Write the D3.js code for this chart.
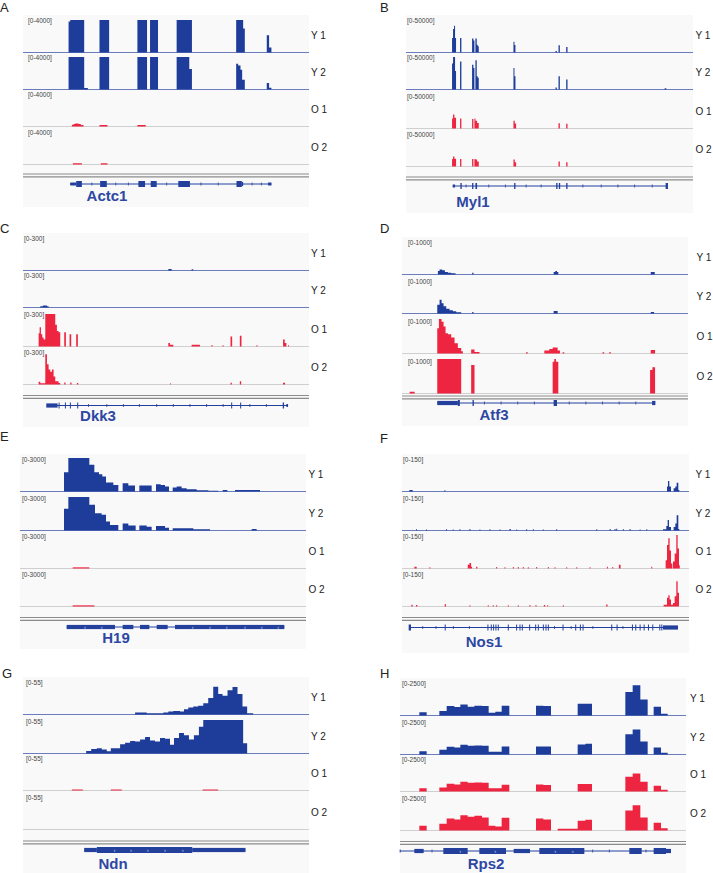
<!DOCTYPE html>
<html>
<head>
<meta charset="utf-8">
<script src="https://cdn.jsdelivr.net/npm/d3@7"></script>
<style>
  body { margin: 0; background: #fff; }
  svg { display: block; font-family: "Liberation Sans", Arial, sans-serif; }
</style>
</head>
<body>
<svg id="fig" width="713" height="873"></svg>
<script>
// coverage segments: [start, end, value]  (positions are relative genome coords of each window)

// A: Actc1  [0-4000]
const actc1Y1 = [[205,210,3800],[210,252,4000],[298,327,4000],[412,441,4000],[450,474,4000],[530,576,4000],[709,730,4000],[730,735,2950],[801,808,2100],[808,815,550]];
const actc1Y2 = [[205,252,4000],[252,263,120],[298,327,4000],[412,441,4000],[450,474,4000],[530,568,4000],[568,576,2500],[709,715,3150],[715,722,2950],[722,727,2400],[727,735,1150],[801,808,760],[808,815,170]];
const actc1O1 = [[215,220,150],[220,225,250],[225,235,300],[235,242,250],[242,250,120],[298,322,110],[412,437,110]];
const actc1O2 = [[218,245,100],[302,322,100]];

// B: Myl1  [0-50000]
const myl1Y1 = [[288,291,22000],[291,294,36000],[294,297,41000],[297,300,22000],[312,316,22000],[348,352,21000],[352,355,18000],[358,362,21000],[362,365,11500],[365,368,9000],[472,475,16000],[475,478,11000],[598,602,1500],[607,611,10500],[630,634,8000]];
const myl1Y2 = [[288,291,40000],[291,294,50000],[294,297,50000],[297,300,28000],[312,316,43000],[348,352,38000],[352,355,33000],[358,362,45000],[362,365,20000],[365,368,17500],[472,475,33000],[475,478,20000],[598,602,2500],[607,611,20000],[630,634,15000],[925,930,1000]];
const myl1O1 = [[288,291,15000],[291,295,21000],[295,300,16000],[312,316,15000],[348,352,14000],[355,358,15000],[358,363,11500],[363,368,8000],[472,476,11500],[476,480,7000],[607,611,7500],[630,634,6500]];
const myl1O2 = [[288,291,11000],[291,295,15000],[295,300,11500],[312,316,11000],[348,352,11000],[355,358,11000],[358,363,10000],[363,368,7000],[472,476,10000],[476,480,6000],[607,611,7000],[630,634,5800]];

// C: Dkk3  [0-300]
const dkk3Y1 = [[505,515,10],[575,580,6]];
const dkk3Y2 = [[120,128,8],[128,140,15],[140,145,8]];
const dkk3O1 = [[115,118,120],[118,122,175],[122,126,110],[126,130,80],[130,135,60],[135,165,300],[165,170,200],[170,175,140],[175,180,130],[192,197,130],[208,213,110],[228,233,110],[505,510,28],[510,520,12],[575,600,12],[635,638,10],[668,671,6],[692,697,88],[720,725,95],[770,773,8],[850,855,60],[855,860,28],[865,868,6]];
const dkk3O2 = [[115,120,20],[120,135,8],[135,140,280],[140,145,185],[145,150,135],[150,155,115],[155,160,135],[160,165,70],[165,175,25],[175,180,10],[192,196,15],[210,214,15],[230,234,10],[510,512,6],[692,696,12],[720,724,25],[850,856,12]];

// D: Atf3  [0-1000]
const atf3Y1 = [[245,250,90],[250,258,130],[258,266,110],[266,275,60],[275,285,40],[285,298,20],[348,352,35],[593,598,60],[598,603,90],[603,607,60],[885,897,60]];
const atf3Y2 = [[243,250,240],[250,256,390],[256,262,290],[262,270,195],[270,280,125],[280,290,80],[290,300,50],[300,315,20],[348,352,30],[593,605,60],[885,895,30]];
const atf3O1 = [[243,248,730],[248,256,1000],[256,262,920],[262,268,780],[268,275,580],[275,285,550],[285,295,455],[295,305,290],[305,315,145],[315,320,50],[345,355,100],[355,370,30],[510,515,20],[565,580,70],[580,590,115],[590,605,165],[605,612,70],[620,625,20],[740,745,20],[760,765,25],[885,898,90]];
const atf3O2 = [[160,175,40],[243,315,1000],[345,355,825],[590,595,920],[595,600,1000],[600,607,920],[883,890,680],[890,898,760]];

// E: H19  [0-3000]
const h19Y1 = [[192,205,1710],[205,268,3000],[268,283,2390],[283,297,1710],[297,307,1530],[307,318,1310],[318,340,765],[340,355,550],[368,385,700],[385,405,490],[418,455,490],[468,482,610],[482,495,550],[495,507,400],[518,530,310],[530,545,400],[545,560,245],[560,590,150],[590,625,60],[625,655,30],[668,682,90],[705,780,90]];
const h19Y2 = [[192,205,1930],[205,268,3000],[268,285,2300],[285,305,1530],[305,318,1380],[318,330,765],[330,355,460],[368,385,580],[385,407,400],[418,440,400],[440,455,300],[468,495,370],[495,507,215],[518,545,150],[545,580,150],[580,630,60],[755,770,90]];
const h19O1 = [[218,268,60]];
const h19O2 = [[218,283,60]];

// F: Nos1  [0-150]
const nos1Y1 = [[160,170,5],[265,268,3],[932,935,20],[935,939,46],[939,944,20],[952,957,12],[957,961,20],[961,966,38],[966,969,5]];
const nos1Y2 = [[180,183,3],[210,213,2],[270,273,3],[290,293,2],[310,313,3],[340,343,4],[370,373,2],[400,403,3],[430,433,2],[460,464,4],[480,483,2],[510,513,3],[530,533,3],[560,563,2],[600,603,3],[720,723,3],[760,764,3],[775,778,4],[780,783,6],[800,803,3],[820,823,4],[850,853,2],[870,873,3],[920,930,3],[930,934,18],[934,938,45],[938,944,14],[952,957,14],[957,961,30],[961,966,67],[966,969,5]];
const nos1O1 = [[175,182,6],[220,223,3],[335,340,15],[340,345,23],[345,348,6],[360,364,6],[420,423,4],[445,448,3],[470,473,4],[485,488,4],[500,503,4],[515,518,3],[540,543,4],[575,578,4],[595,598,3],[630,633,3],[660,663,3],[700,703,3],[752,755,6],[768,771,5],[788,793,15],[885,888,6],[928,932,35],[932,936,104],[936,940,135],[940,944,80],[944,948,20],[950,955,30],[955,960,66],[960,964,150],[964,968,89],[968,970,12]];
const nos1O2 = [[166,170,6],[180,184,5],[266,270,8],[340,343,3],[395,398,3],[410,413,3],[420,423,3],[455,458,3],[485,488,3],[520,523,5],[538,541,4],[563,567,4],[573,576,3],[620,623,3],[750,754,7],[922,932,6],[932,936,37],[936,940,49],[940,944,29],[944,950,6],[950,955,14],[955,960,44],[960,964,113],[964,968,60]];

// G: Ndn  [0-55]
const ndnY1 = [[405,440,2.3],[440,490,1.1],[490,505,2.3],[505,520,4],[520,540,5.1],[540,552,4],[552,565,8],[565,580,10.8],[580,595,12.5],[595,610,13.6],[610,625,18],[625,640,26.6],[640,655,45.4],[655,668,33.5],[668,683,30.6],[683,698,39.7],[698,713,44.8],[713,728,33.5],[728,742,12.5],[742,760,1.1]];
const ndnY2 = [[258,273,3.4],[273,290,6.8],[290,305,7.9],[305,320,5.7],[320,332,2.8],[332,360,7.9],[360,375,14.7],[375,390,17],[390,405,19.8],[405,420,19.3],[420,435,22.7],[435,450,26.6],[450,465,21],[465,480,19.3],[480,495,25],[495,510,23.8],[510,522,13.6],[522,537,25],[537,552,33.5],[552,567,29.5],[567,582,22.7],[582,597,29.5],[597,610,43.7],[610,730,55],[730,742,16.4]];
const ndnO1 = [[215,248,0.8],[332,365,0.8],[608,655,0.8]];
const ndnO2 = [];

// H: Rps2  [0-2500]
const rps2Y1 = [[190,212,206],[250,272,310],[272,295,700],[295,313,620],[313,335,825],[335,355,645],[355,378,720],[378,398,700],[398,418,180],[418,437,258],[437,460,720],[540,562,720],[562,585,700],[665,708,875],[808,830,1800],[830,853,2320],[853,875,1210],[893,915,645],[915,935,100]];
const rps2Y2 = [[190,212,206],[250,272,335],[272,295,567],[295,313,515],[313,335,720],[335,355,645],[355,378,670],[378,398,645],[398,418,180],[418,437,180],[437,460,593],[540,585,593],[665,688,750],[688,708,800],[808,830,1546],[830,853,1907],[853,875,980],[893,915,515],[915,935,100]];
const rps2O1 = [[190,212,206],[250,272,283],[272,295,567],[295,313,515],[313,335,720],[335,355,645],[355,378,670],[378,398,645],[398,437,206],[437,460,490],[540,562,515],[562,585,464],[665,708,541],[808,830,1108],[830,853,1366],[853,875,720],[893,915,412],[915,935,100]];
const rps2O2 = [[190,212,335],[250,272,490],[272,295,900],[295,313,825],[313,335,1160],[335,355,1030],[355,378,1108],[378,398,980],[398,418,335],[418,437,283],[437,460,954],[540,562,900],[562,585,825],[605,665,100],[665,688,720],[688,708,800],[808,830,1520],[830,853,1930],[853,875,980],[893,915,567],[915,935,130]];

// gene models: exons [start, end, kind]  kind: T = coding, m = mid, t = UTR
const actc1Exons = [[210,228,'t'],[228,245,'T'],[300,320,'T'],[415,435,'T'],[452,470,'T'],[535,570,'T'],[710,726,'T'],[726,730,'m'],[805,815,'t']];
const myl1Exons = [[290,297,'t'],[313,317,'T'],[348,352,'T'],[358,363,'T'],[474,478,'T'],[600,604,'T'],[608,612,'T'],[630,634,'T'],[928,935,'T']];
const dkk3Exons = [[138,172,'m'],[175,178,'T'],[194,197,'T'],[209,212,'T'],[231,234,'T'],[694,697,'T'],[721,724,'T'],[849,853,'T'],[860,865,'t']];
const atf3Exons = [[243,305,'m'],[305,311,'T'],[349,353,'T'],[593,603,'T'],[889,899,'m']];
const h19Exons = [[200,345,'m'],[368,400,'m'],[420,448,'m'],[470,503,'m'],[525,853,'m']];
const nos1Exons = [[158,165,'T'],[266,269,'T'],[394,397,'T'],[404,407,'T'],[411,414,'T'],[418,421,'T'],[425,428,'T'],[455,458,'T'],[480,483,'T'],[490,493,'T'],[497,500,'T'],[519,522,'T'],[537,540,'T'],[545,548,'T'],[560,563,'T'],[568,571,'T'],[575,578,'T'],[619,622,'T'],[657,660,'T'],[671,674,'T'],[679,682,'T'],[765,768,'T'],[781,784,'T'],[827,830,'T'],[837,840,'T'],[850,853,'T'],[862,865,'T'],[875,878,'T'],[888,891,'T'],[909,912,'T'],[915,918,'T'],[920,965,'m']];
const ndnExons = [[252,290,'m'],[290,577,'T'],[577,737,'m']];
const rps2Exons = [[131,133,'t'],[175,203,'m'],[262,335,'T'],[370,450,'T'],[473,522,'m'],[550,685,'T'],[820,857,'T'],[893,930,'T'],[930,945,'m']];

const trackNames = ["Y 1", "Y 2", "O 1", "O 2"];
const trackColors = ["#1e3d9b", "#1e3d9b", "#ee2541", "#ee2541"];
const baseColors = ["#6a7cbc", "#6a7cbc", "#cfcfcf", "#cfcfcf"];

const panels = [
  { letter: "A", gene: "Actc1", range: "[0-4000]", max: 4000, domain: [68, 928],
    tracks: [actc1Y1, actc1Y2, actc1O1, actc1O2], exons: actc1Exons, span: [210, 815],
    ticks: [275, 347, 385, 500, 603, 655, 757, 785], chevrons: [], chev: "",
    lay: { lx: 0, ly: 12, x0: 23, x1: 309, base: [52, 89, 126, 164], h: 32, sep: 174, gy: 184, nx: 107, ny: 201, tx: 311, rx: 5 } },
  { letter: "B", gene: "Myl1", range: "[0-50000]", max: 50000, domain: [150, 1010],
    tracks: [myl1Y1, myl1Y2, myl1O1, myl1O2], exons: myl1Exons, span: [290, 935],
    ticks: [330, 398, 448, 510, 555, 680, 735, 785, 835, 888], chevrons: [], chev: "",
    lay: { lx: 380, ly: 12, x0: 406, x1: 693, base: [52, 89, 128, 166], h: 32, sep: 177, gy: 186, nx: 473, ny: 207, tx: 695.5, rx: 1 } },
  { letter: "C", gene: "Dkk3", range: "[0-300]", max: 300, domain: [68, 928],
    tracks: [dkk3Y1, dkk3Y2, dkk3O1, dkk3O2], exons: dkk3Exons, span: [140, 865],
    ticks: [265, 320, 370, 418, 470, 520, 570, 620, 670, 750, 800], chevrons: [], chev: "",
    lay: { lx: 0, ly: 233, x0: 23, x1: 309, base: [270, 307, 346, 384], h: 32, sep: 395.5, gy: 405.5, nx: 98, ny: 421, tx: 311, rx: 1 } },
  { letter: "D", gene: "Atf3", range: "[0-1000]", max: 1000, domain: [137, 997],
    tracks: [atf3Y1, atf3Y2, atf3O1, atf3O2], exons: atf3Exons, span: [243, 897],
    ticks: [385, 435, 485, 535, 640, 690, 740, 790, 840], chevrons: [], chev: "",
    lay: { lx: 380, ly: 233, x0: 402, x1: 688, base: [274, 313, 353, 393], h: 34, sep: 396, gy: 403, nx: 494, ny: 420, tx: 696.5, rx: 6 } },
  { letter: "E", gene: "H19", range: "[0-3000]", max: 3000, domain: [60, 918],
    tracks: [h19Y1, h19Y2, h19O1, h19O2], exons: h19Exons, span: [200, 853],
    ticks: [], chevrons: [255, 305, 578, 630, 680, 735, 785, 835], chev: "‹",
    lay: { lx: 0, ly: 441, x0: 20, x1: 306, base: [491, 530, 568, 606], h: 33, sep: 617.5, gy: 627, nx: 116, ny: 643, tx: 308.5, rx: 2 } },
  { letter: "F", gene: "Nos1", range: "[0-150]", max: 150, domain: [138, 998],
    tracks: [nos1Y1, nos1Y2, nos1O1, nos1O2], exons: nos1Exons, span: [160, 965],
    ticks: [200, 240, 292, 340, 595, 645, 710, 800], chevrons: [], chev: "",
    lay: { lx: 380, ly: 443, x0: 402, x1: 689, base: [491, 530, 568, 606], h: 33, sep: 617.5, gy: 627.5, nx: 484, ny: 647, tx: 695.5, rx: 1 } },
  { letter: "G", gene: "Ndn", range: "[0-55]", max: 55, domain: [68, 928],
    tracks: [ndnY1, ndnY2, ndnO1, ndnO2], exons: ndnExons, span: [252, 737],
    ticks: [], chevrons: [343, 393, 443, 495, 548], chev: "›",
    lay: { lx: 2, ly: 678, x0: 23, x1: 309, base: [714, 753, 790, 829], h: 33, sep: 841, gy: 850, nx: 113, ny: 869, tx: 311, rx: 3 } },
  { letter: "H", gene: "Rps2", range: "[0-2500]", max: 2500, domain: [132, 990],
    tracks: [rps2Y1, rps2Y2, rps2O1, rps2O2], exons: rps2Exons, span: [132, 945],
    ticks: [228, 710, 760, 870], chevrons: [313, 418, 598, 650], chev: "›",
    lay: { lx: 380, ly: 678, x0: 400, x1: 686, base: [715, 754, 791, 830], h: 32, sep: 841.5, gy: 851, nx: 486, ny: 869, tx: 690, rx: 2 } }
];

const exonH = { T: 6, m: 4.2, t: 3 };
const geneColor = "#23409c";

const svg = d3.select("#fig");

// all segments of one track merged into a single path (no seams between neighbours)
const coveragePath = (segs, x, y, base) => {
  const pth = d3.path();
  segs.forEach((d) => {
    const x0 = x(d[0]), w = Math.max(0.8, x(d[1]) - x(d[0]));
    const top = Math.min(y(d[2]), base - 0.7);
    pth.rect(x0, top, w, base - top);
  });
  return pth.toString();
};

const drawPanel = (p) => {
  const L = p.lay;
  const g = svg.append("g").attr("class", "panel");
  const x = d3.scaleLinear().domain(p.domain).range([L.x0, L.x1]);

  // light backdrop of the browser view
  g.append("rect")
    .attr("x", L.x0).attr("y", L.base[0] - 37)
    .attr("width", L.x1 - L.x0).attr("height", L.ny + 6 - (L.base[0] - 37))
    .style("fill", "#f9f9f9");

  g.append("text")
    .attr("x", L.lx).attr("y", L.ly)
    .text(p.letter)
    .style("font-size", "13px").style("fill", "#222");

  p.tracks.forEach((segs, i) => {
    const base = L.base[i];
    const y = d3.scaleLinear().domain([0, p.max]).range([base, base - L.h]).clamp(true);

    g.append("line")
      .attr("x1", L.x0).attr("x2", L.x1)
      .attr("y1", base + 0.5).attr("y2", base + 0.5)
      .style("stroke", baseColors[i]).style("stroke-width", 1);

    g.append("path")
      .attr("d", coveragePath(segs, x, y, base + 0.5))
      .style("fill", trackColors[i]);

    g.append("text")
      .attr("x", L.x0 + L.rx).attr("y", base - 29)
      .text(p.range)
      .style("font-size", "6.5px").style("fill", "#444");

    g.append("text")
      .attr("x", L.tx).attr("y", base - 13)
      .text(trackNames[i])
      .style("font-size", "10px").style("fill", "#222");
  });

  // double separator above the gene track
  [0, 2.8].forEach((off) => {
    g.append("line")
      .attr("x1", L.x0).attr("x2", L.x1)
      .attr("y1", L.sep + off).attr("y2", L.sep + off)
      .style("stroke", "#8c8c8c").style("stroke-width", 1.2);
  });

  // gene model
  g.append("line")
    .attr("x1", x(p.span[0])).attr("x2", x(p.span[1]))
    .attr("y1", L.gy).attr("y2", L.gy)
    .style("stroke", geneColor).style("stroke-width", 1);

  g.selectAll(null)
    .data(p.ticks)
    .enter()
    .append("line")
    .attr("x1", (d) => x(d)).attr("x2", (d) => x(d))
    .attr("y1", L.gy - 1.5).attr("y2", L.gy + 1.5)
    .style("stroke", geneColor).style("stroke-width", 0.8);

  g.selectAll(null)
    .data(p.exons)
    .enter()
    .append("rect")
    .attr("x", (d) => x(d[0]))
    .attr("width", (d) => Math.max(1, x(d[1]) - x(d[0])))
    .attr("y", (d) => L.gy - exonH[d[2]] / 2)
    .attr("height", (d) => exonH[d[2]])
    .style("fill", geneColor);

  g.selectAll(null)
    .data(p.chevrons)
    .enter()
    .append("text")
    .attr("x", (d) => x(d)).attr("y", L.gy + 2)
    .attr("text-anchor", "middle")
    .text(p.chev)
    .style("font-size", "6px").style("fill", "#c8d0ee");

  g.append("text")
    .attr("x", L.nx).attr("y", L.ny)
    .attr("text-anchor", "middle")
    .text(p.gene)
    .style("font-size", "15px").style("font-weight", "bold").style("fill", "#2d47a3");
};

panels.forEach(drawPanel);
</script>
</body>
</html>
